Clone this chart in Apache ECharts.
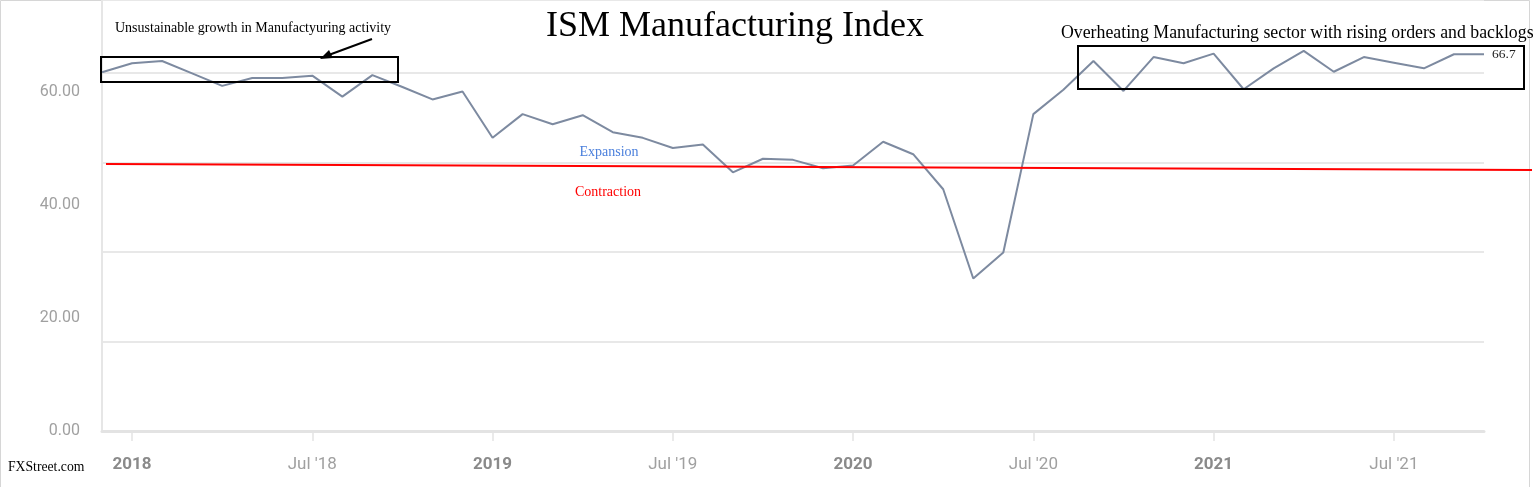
<!DOCTYPE html>
<html>
<head>
<meta charset="utf-8">
<script src="https://cdn.jsdelivr.net/npm/echarts@6/dist/echarts.min.js"></script>
<style>
  html, body { margin: 0; padding: 0; background: #fff; }
  #main { width: 1540px; height: 487px; }
</style>
</head>
<body>
<div id="main"></div>
<script>
// months shown on the chart, Dec 2017 .. Oct 2021
var months = [
  '2017-12',
  '2018-01','2018-02','2018-03','2018-04','2018-05','2018-06','2018-07','2018-08','2018-09','2018-10','2018-11','2018-12',
  '2019-01','2019-02','2019-03','2019-04','2019-05','2019-06','2019-07','2019-08','2019-09','2019-10','2019-11','2019-12',
  '2020-01','2020-02','2020-03','2020-04','2020-05','2020-06','2020-07','2020-08','2020-09','2020-10','2020-11','2020-12',
  '2021-01','2021-02','2021-03','2021-04','2021-05','2021-06','2021-07','2021-08','2021-09','2021-10'
];

// index values
var ismValues = [
  63.5,
  65.1, 65.5, 63.3, 61.1, 62.5, 62.5, 62.9, 59.2, 63.0, 60.9, 58.7, 60.1,
  51.9, 56.1, 54.3, 55.9, 52.9, 51.9, 50.1, 50.7, 45.8, 48.2, 48.0, 46.5,
  47.0, 51.2, 49.0, 42.8, 27.0, 31.6, 56.1, 60.4, 65.5, 60.2, 66.2, 65.1,
  66.8, 60.5, 64.2, 67.3, 63.6, 66.2, 65.2, 64.2, 66.7, 66.7
];

var yTicks = [0, 20, 40, 60];
var lastLabel = '66.7';

var serif = "'Times New Roman', 'Liberation Serif', serif";
var chart = echarts.init(document.getElementById('main'));

function isLabelMonth(i) {
  var m = months[i].split('-')[1];
  return m === '01' || m === '07';
}

var option = {
  animation: false,
  backgroundColor: '#fff',
  title: {
    text: 'ISM Manufacturing Index',
    left: 541,
    top: 4,
    textStyle: { fontFamily: serif, fontSize: 36, fontWeight: 'normal', color: '#000' }
  },
  grid: { left: 102, right: 56, top: 0, bottom: 56 },
  xAxis: {
    type: 'category',
    data: months,
    boundaryGap: false,
    axisLine: { lineStyle: { color: '#e3e3e3', width: 3 } },
    axisTick: {
      interval: function (i) { return isLabelMonth(i); },
      length: 10,
      lineStyle: { color: '#e3e3e3', width: 1.5 }
    },
    splitLine: { show: false },
    axisLabel: {
      interval: function (i) { return isLabelMonth(i); },
      margin: 25,
      formatter: function (v) {
        var p = v.split('-');
        if (p[1] === '01') return '{y|' + p[0] + '}';
        return "{m|Jul '" + p[0].slice(2) + '}';
      },
      rich: {
        y: { fontFamily: 'Roboto', fontSize: 17, fontWeight: 'bold', color: '#8a8a8a' },
        m: { fontFamily: 'Roboto', fontSize: 17, color: '#a0a0a0' }
      }
    }
  },
  yAxis: [
    {
      type: 'value',
      min: 0,
      max: 76.3,
      interval: 20,
      axisLine: { show: true, lineStyle: { color: '#e6e6e6', width: 2 } },
      axisTick: { show: false },
      splitLine: { show: false },
      axisLabel: {
        margin: 22,
        showMaxLabel: false,
        fontFamily: 'Roboto',
        fontSize: 16,
        color: '#a0a0a0',
        formatter: function (v) { return yTicks.indexOf(v) >= 0 ? v.toFixed(2) : ''; }
      }
    },
    {
      // light horizontal guides of the original chart
      type: 'value',
      position: 'left',
      min: 0,
      max: 96.3,
      interval: 20,
      axisLine: { show: false },
      axisTick: { show: false },
      axisLabel: { show: false },
      splitLine: { lineStyle: { color: '#e8e8e8', width: 2 } }
    }
  ],
  series: [
    {
      type: 'line',
      yAxisIndex: 0,
      data: ismValues,
      symbol: 'none',
      lineStyle: { color: '#7d8aa0', width: 2 },
      endLabel: {
        show: true,
        distance: 8,
        formatter: lastLabel,
        fontFamily: serif,
        fontSize: 13.5,
        color: '#222'
      },
      z: 3
    }
  ],
  graphic: [
    // outer frame
    { type: 'rect', shape: { x: 0.5, y: 0.5, width: 1529, height: 490 }, style: { fill: 'none', stroke: '#d6d6d6', lineWidth: 1 }, silent: true },
    // expansion / contraction divider
    { type: 'line', shape: { x1: 106, y1: 164, x2: 1532, y2: 170 }, style: { stroke: '#ff0000', lineWidth: 2 }, z: 10 },
    { type: 'text', style: { x: 609, y: 152, text: 'Expansion', textAlign: 'center', textVerticalAlign: 'middle', font: '14px ' + serif, fill: '#4a7fdc' }, z: 10 },
    { type: 'text', style: { x: 608, y: 192, text: 'Contraction', textAlign: 'center', textVerticalAlign: 'middle', font: '14px ' + serif, fill: '#ff0000' }, z: 10 },
    // left annotation
    { type: 'rect', shape: { x: 101, y: 57, width: 297, height: 25 }, style: { fill: 'none', stroke: '#000', lineWidth: 2 }, z: 10 },
    { type: 'text', style: { x: 115, y: 28, text: 'Unsustainable growth in Manufactyuring activity', textVerticalAlign: 'middle', font: '14px ' + serif, fill: '#000' }, z: 10 },
    { type: 'line', shape: { x1: 372, y1: 39, x2: 326, y2: 56 }, style: { stroke: '#000', lineWidth: 2 }, z: 10 },
    { type: 'polygon', shape: { points: [[320, 59], [329, 50], [333, 58]] }, style: { fill: '#000' }, z: 10 },
    // right annotation
    { type: 'rect', shape: { x: 1078, y: 46, width: 446, height: 43 }, style: { fill: 'none', stroke: '#000', lineWidth: 2 }, z: 10 },
    { type: 'text', style: { x: 1061, y: 33, text: 'Overheating Manufacturing sector with rising orders and backlogs', textVerticalAlign: 'middle', font: '17.8px ' + serif, fill: '#000' }, z: 10 },
    // source
    { type: 'text', style: { x: 8, y: 467, text: 'FXStreet.com', textVerticalAlign: 'middle', font: '13.7px ' + serif, fill: '#000' }, z: 10 }
  ]
};

chart.setOption(option);
</script>
</body>
</html>
